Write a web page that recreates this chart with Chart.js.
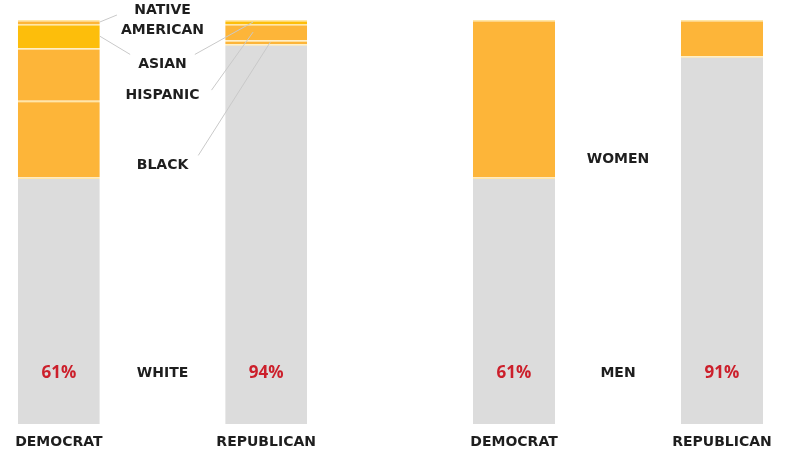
<!DOCTYPE html>
<html>
<head>
<meta charset="utf-8">
<script src="https://cdn.jsdelivr.net/npm/chart.js@4"></script>
<style>
  html, body { margin: 0; padding: 0; background: #fff; }
  .wrap { position: absolute; top: 0; height: 450px; }
</style>
</head>
<body>
<div class="wrap" style="left:0;width:325px"><canvas id="race"></canvas></div>
<div class="wrap" style="left:455px;width:326px"><canvas id="gender"></canvas></div>
<script>
const parties = ['DEMOCRAT', '', 'REPUBLICAN'];

const raceGroups = ['WHITE', 'BLACK', 'HISPANIC', 'ASIAN', 'NATIVE AMERICAN'];
const demRace = [61, 19, 13, 6, 1];
const repRace = [94, 1, 4, 1, 0];

const genderGroups = ['MEN', 'WOMEN'];
const demGender = [61, 39];
const repGender = [91, 9];

// where the middle labels sit, in axis units (0..100)
const raceLabelY = [12.6, 64, 81.4, 89, 100];
const genderLabelY = [12.6, 65.6];
const pctLabelY = 12.6;

const grey = '#dcdcdc', orange = '#fdb539', gold = '#fdbe0b';
const raceColors = [grey, orange, orange, gold, orange];
const genderColors = [grey, orange];

// leader lines: group -> which bar, where across the bar, label side and nudge
const raceLeaders = [
  { group: 4, bar: 0, at: 1, side: 'left', dx: -4, dy: 5 },
  { group: 3, bar: 0, at: 1, side: 'left', dx: -8, dy: -10 },
  { group: 3, bar: 2, at: 0.34, side: 'right', dx: 8, dy: -10 },
  { group: 2, bar: 2, at: 0.34, side: 'right', dx: 12, dy: -5 },
  { group: 1, bar: 2, at: 0.55, side: 'right', dx: 10, dy: -10 }
];

const FONT = '"DejaVu Sans", sans-serif';

function labelsPlugin(groups, dem, rep, labelY, leaders) {
  return {
    id: 'labels',
    afterDatasetsDraw(chart) {
      const ctx = chart.ctx;
      const x = chart.scales.x, y = chart.scales.y;
      const midX = x.getPixelForValue(1);
      ctx.save();
      ctx.font = 'bold 14px ' + FONT;
      ctx.textAlign = 'center';
      ctx.textBaseline = 'middle';

      // middle labels
      const boxes = [];
      groups.forEach((g, i) => {
        const words = g.split(' ');
        const py = y.getPixelForValue(labelY[i]);
        let w = 0;
        ctx.fillStyle = '#1e1e1e';
        words.forEach((wd, k) => {
          const ly = py + (k - (words.length - 1) / 2) * 20;
          ctx.fillText(wd, midX, ly);
          w = Math.max(w, ctx.measureText(wd).width);
        });
        boxes[i] = { l: midX - w / 2, r: midX + w / 2, y: py - (words.length - 1) * 10 };
      });

      // leader lines
      ctx.strokeStyle = '#c9c9c9';
      ctx.lineWidth = 1;
      const vals = [dem, null, rep];
      leaders.forEach(ld => {
        const data = vals[ld.bar];
        let base = 0;
        for (let k = 0; k < ld.group; k++) base += data[k];
        const ty = y.getPixelForValue(base + data[ld.group] / 2);
        const meta = chart.getDatasetMeta(ld.group).data[ld.bar];
        const left = meta.x - meta.width / 2;
        const tx = left + meta.width * ld.at;
        const b = boxes[ld.group];
        const sx = (ld.side === 'left' ? b.l : b.r) + ld.dx;
        const sy = b.y + ld.dy;
        ctx.beginPath();
        ctx.moveTo(sx, sy);
        ctx.lineTo(tx, ty);
        ctx.stroke();
      });

      // percentage of first group on each bar
      ctx.font = 'bold 17px "Open Sans", sans-serif';
      ctx.fillStyle = '#cc1f2b';
      [[0, dem], [2, rep]].forEach(([idx, d]) => {
        ctx.fillText(d[0] + '%', x.getPixelForValue(idx), y.getPixelForValue(pctLabelY));
      });
      ctx.restore();
    }
  };
}

function makeChart(id, groups, dem, rep, colors, labelY, leaders) {
  new Chart(document.getElementById(id), {
    type: 'bar',
    data: {
      labels: parties,
      datasets: groups.map((g, i) => ({
        label: g,
        data: [dem[i], null, rep[i]],
        backgroundColor: colors[i],
        borderColor: '#ffe7a8',
        borderWidth: { top: 1.5, left: 0, right: 0, bottom: 0 },
        borderSkipped: false,
        categoryPercentage: 1,
        barPercentage: 0.79
      }))
    },
    options: {
      responsive: true,
      maintainAspectRatio: false,
      animation: false,
      layout: { padding: { top: 20, left: 7, right: 7, bottom: 0 } },
      plugins: { legend: { display: false }, tooltip: { enabled: false } },
      scales: {
        x: {
          stacked: true,
          grid: { display: false },
          border: { display: false },
          ticks: {
            color: '#1e1e1e', padding: 2, maxRotation: 0, minRotation: 0, autoSkip: false,
            font: { family: FONT, size: 14, weight: 'bold' }
          },
          afterFit: s => { s.height = 26; s.paddingLeft = 0; s.paddingRight = 0; }
        },
        y: { stacked: true, display: false, min: 0, max: 100 }
      }
    },
    plugins: [labelsPlugin(groups, dem, rep, labelY, leaders)]
  });
}

makeChart('race', raceGroups, demRace, repRace, raceColors, raceLabelY, raceLeaders);
makeChart('gender', genderGroups, demGender, repGender, genderColors, genderLabelY, []);
</script>
</body>
</html>
